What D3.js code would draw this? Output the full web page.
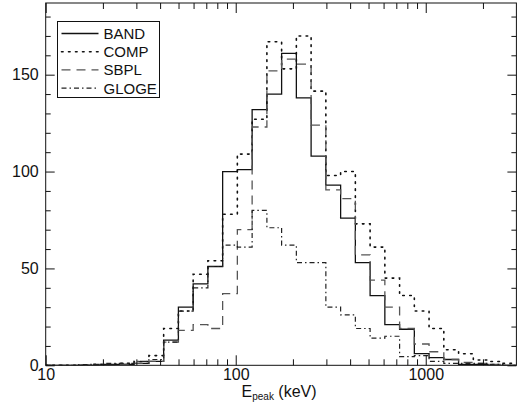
<!DOCTYPE html>
<html>
<head>
<meta charset="utf-8">
<script src="https://cdn.jsdelivr.net/npm/d3@7"></script>
<style>
  html, body { margin: 0; padding: 0; background: #fff; }
  svg { display: block; font-family: "Liberation Sans", Arial, Helvetica, sans-serif; }
</style>
</head>
<body>
<svg id="chart" width="518" height="409"></svg>
<script>
// Histogram bin edges in keV (logarithmic bins)
const binEdges = [10.0, 11.96, 14.30, 17.09, 20.43, 24.43, 29.21, 34.93, 41.76, 49.93,
  59.70, 71.38, 85.34, 102.0, 122.0, 145.9, 174.4, 208.5, 249.3, 298.1,
  356.5, 426.2, 509.6, 609.3, 728.5, 871.0, 1041, 1245, 1489, 1780,
  2128, 2544, 3042];

// Counts per bin for each spectral model
const band  = [0, 0, 0, 0, 0.5, 0.5, 1, 2, 13, 30, 42, 51, 100, 101, 132, 140, 161, 138, 108, 93,
  76, 53, 36, 21, 18.6, 6, 4, 3, 0.5, 0.5, 0, 0];
const comp  = [0, 0, 0, 0.5, 0.5, 1, 2, 5, 19, 28, 47, 54, 78, 109, 127, 167, 153, 170, 141.5, 98,
  100, 73, 61, 45, 36, 28, 19, 8, 6, 2.7, 2, 1];
const sbpl  = [0, 0, 0, 0, 0, 0.5, 1, 2, 12, 18, 21, 19, 37, 70, 123, 152, 158, 155.5, 124, 90.5,
  86, 57, 44, 30, 19, 11, 7, 3, 1.5, 1, 0.5, 0];
const gloge = [0, 0, 0.3, 0.5, 1, 1, 2, 3, 12, 28, 40, 51, 62, 61, 80, 71, 62, 53, 53, 30,
  26, 19, 14, 15, 4.5, 5, 2, 1, 1, 1, 0.5, 0];

const seriesNames = ["BAND", "COMP", "SBPL", "GLOGE"];
const seriesValues = [band, comp, sbpl, gloge];

// Axis ticks
const xMajor = [10, 100, 1000];
const xMinor = [20, 30, 40, 50, 60, 70, 80, 90, 200, 300, 400, 500, 600, 700, 800, 900, 2000];
const yMajor = [0, 50, 100, 150];
const yMinor = [10, 20, 30, 40, 60, 70, 80, 90, 110, 120, 130, 140, 160, 170, 180];

const styles = [
  { stroke: "#111", dash: null,        width: 1.3 },
  { stroke: "#111", dash: "1.6 5.4",   width: 1.6 },
  { stroke: "#555", dash: "9 6",       width: 1.3 },
  { stroke: "#222", dash: "5 3 1.5 3", width: 1.2 }
];

const W = 518, H = 409;
const m = { left: 45.7, right: 1.6, top: 3, bottom: 43.7 };
const svg = d3.select("#chart");

const x = d3.scaleLog().domain([10, 3000]).range([m.left, W - m.right]);
const y = d3.scaleLinear().domain([0, 187]).range([H - m.bottom, m.top]);

svg.append("defs").append("clipPath").attr("id", "plotclip")
  .append("rect")
  .attr("x", m.left).attr("y", m.top)
  .attr("width", x.range()[1] - m.left).attr("height", y.range()[0] - m.top);

// Step histograms
const line = d3.line()
  .x(d => x(d[0]))
  .y(d => y(d[1]))
  .curve(d3.curveStepAfter);

const plot = svg.append("g").attr("clip-path", "url(#plotclip)");
seriesValues.forEach((vals, si) => {
  const pts = vals.map((v, i) => [binEdges[i], v]);
  pts.push([binEdges[vals.length], vals[vals.length - 1]]);
  const st = styles[si];
  plot.append("path")
    .attr("d", line(pts))
    .attr("fill", "none")
    .attr("stroke", st.stroke)
    .attr("stroke-width", st.width)
    .attr("stroke-dasharray", st.dash)
    .attr("stroke-linecap", si === 1 ? "round" : "butt");
});

// Axes with inward ticks on all four sides
const fmt = d3.format("d");
function styleAxis(g) {
  g.select(".domain").remove();
  g.selectAll(".tick line").attr("stroke", "#111").attr("stroke-width", 1);
  g.selectAll(".tick text").attr("fill", "#111").attr("font-size", 16);
}
const bottomY = y.range()[0], topY = m.top, rightX = x.range()[1];

svg.append("g").attr("transform", `translate(0,${bottomY})`)
  .call(d3.axisBottom(x).tickValues(xMajor).tickFormat(fmt).tickSize(-10).tickPadding(3))
  .call(styleAxis);
svg.append("g").attr("transform", `translate(0,${bottomY})`)
  .call(d3.axisBottom(x).tickValues(xMinor).tickFormat("").tickSize(-6))
  .call(styleAxis);
svg.append("g").attr("transform", `translate(0,${topY})`)
  .call(d3.axisTop(x).tickValues(xMajor).tickFormat("").tickSize(-10))
  .call(styleAxis);
svg.append("g").attr("transform", `translate(0,${topY})`)
  .call(d3.axisTop(x).tickValues(xMinor).tickFormat("").tickSize(-6))
  .call(styleAxis);

svg.append("g").attr("transform", `translate(${m.left},0)`)
  .call(d3.axisLeft(y).tickValues(yMajor).tickFormat(fmt).tickSize(-9).tickPadding(7))
  .call(styleAxis);
svg.append("g").attr("transform", `translate(${m.left},0)`)
  .call(d3.axisLeft(y).tickValues(yMinor).tickFormat("").tickSize(-5))
  .call(styleAxis);
svg.append("g").attr("transform", `translate(${rightX},0)`)
  .call(d3.axisRight(y).tickValues(yMajor).tickFormat("").tickSize(-9))
  .call(styleAxis);
svg.append("g").attr("transform", `translate(${rightX},0)`)
  .call(d3.axisRight(y).tickValues(yMinor).tickFormat("").tickSize(-5))
  .call(styleAxis);

// Frame
svg.append("rect")
  .attr("x", m.left).attr("y", m.top)
  .attr("width", rightX - m.left).attr("height", bottomY - m.top)
  .attr("fill", "none").attr("stroke", "#111").attr("stroke-width", 1);

// X axis title with subscript
const title = svg.append("text")
  .attr("x", (m.left + rightX) / 2 - 2)
  .attr("y", 396.5)
  .attr("text-anchor", "middle")
  .attr("font-size", 16)
  .attr("fill", "#111");
title.append("tspan").text("E");
title.append("tspan").attr("font-size", 10).attr("dy", 3).text("peak");
title.append("tspan").attr("dy", -3).text(" (keV)");

// Legend
const lg = svg.append("g").attr("transform", "translate(57.5,21.5)");
lg.append("rect").attr("width", 102).attr("height", 76)
  .attr("fill", "#fff").attr("stroke", "#111").attr("stroke-width", 1);
seriesNames.forEach((name, i) => {
  const yy = 12 + i * 18.2;
  const st = styles[i];
  lg.append("line")
    .attr("x1", 4).attr("x2", 41).attr("y1", yy).attr("y2", yy)
    .attr("stroke", st.stroke).attr("stroke-width", st.width)
    .attr("stroke-dasharray", st.dash)
    .attr("stroke-linecap", i === 1 ? "round" : "butt");
  lg.append("text")
    .attr("x", 46).attr("y", yy).attr("dy", "0.36em")
    .attr("font-size", 15).attr("fill", "#111")
    .text(name);
});
</script>
</body>
</html>
